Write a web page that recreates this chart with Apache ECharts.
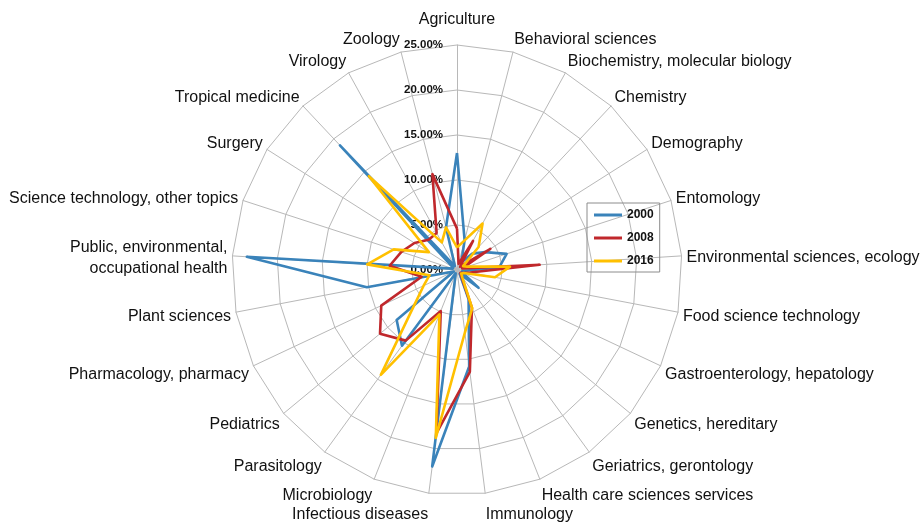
<!DOCTYPE html>
<html><head><meta charset="utf-8">
<script src="https://cdn.jsdelivr.net/npm/echarts@6/dist/echarts.min.js"></script>
<style>html,body{margin:0;padding:0;background:#fff}#c{width:921px;height:522px}</style>
</head><body><div id="c"></div>
<script>
// Categories listed clockwise starting from the top axis
const categories = [
  'Agriculture', 'Behavioral sciences', 'Biochemistry, molecular biology', 'Chemistry',
  'Demography', 'Entomology', 'Environmental sciences, ecology', 'Food science technology',
  'Gastroenterology, hepatology', 'Genetics, hereditary', 'Geriatrics, gerontology',
  'Health care sciences services', 'Immunology', 'Infectious diseases', 'Microbiology',
  'Parasitology', 'Pediatrics', 'Pharmacology, pharmacy', 'Plant sciences',
  'Public, environmental,\noccupational health', 'Science technology, other topics',
  'Surgery', 'Tropical medicine', 'Virology', 'Zoology'
];
const seriesNames = ['2000', '2008', '2016'];
const values2000 = [13.0, 3.4, 1.0, 2.5, 3.7, 5.8, 4.7, 0.6, 0.6, 3.1, 0.5, 3.5, 10.8, 22.0, 0.4, 10.4, 8.7, 0.4, 10.2, 23.4, 0.5, 0.5, 19.0, 0.5, 4.9];
const values2008 = [4.6, 0.7, 3.7, 0.5, 4.4, 0.6, 9.2, 1.5, 0.8, 0.5, 0.8, 4.5, 11.4, 18.3, 4.9, 9.7, 11.1, 9.3, 4.0, 7.5, 6.5, 5.6, 4.6, 4.7, 11.0];
const values2016 = [2.5, 3.4, 5.9, 3.5, 0.8, 1.2, 5.9, 4.3, 0.8, 0.6, 1.0, 4.6, 7.0, 18.8, 5.3, 14.4, 6.2, 4.1, 3.1, 10.0, 7.4, 3.7, 14.3, 3.5, 4.9];
const axisMax = 25;
const axisSplits = 5;

const FONT = "'Liberation Sans', Arial, sans-serif";
const colors = ['#3a83ba', '#c0282c', '#ffc000'];
const n = categories.length;
// ECharts radar goes counter-clockwise; keep index 0 on top and reverse the rest
const order = [0].concat(categories.map((_, i) => i).slice(1).reverse());

const indicators = order.map(idx => ({
  name: categories[idx], min: 0, max: axisMax,
  nameGap: idx === 0 ? 15 : 5,
  axisLabel: { show: idx === 0 }
}));

// Vertical nudge of each name (positive = down), done with an invisible spacer line
const rich = { n: { color: '#111', fontFamily: FONT, fontSize: 16, lineHeight: 21 } };
const nudge = categories.map((_, idx) => {
  if (idx === 0) return 0;
  const c = Math.cos(idx * 2 * Math.PI / n);
  const a = Math.abs(c);
  return c > 0 ? -8 * a + 3 * (1 - a) : 10 * a + 2 + (a > 0.98 ? 4 : 0);
});
nudge.forEach((v, idx) => { rich['s' + idx] = { fontSize: 1, lineHeight: Math.max(1, 2 * Math.abs(v)) }; });

function formatName(name) {
  const idx = categories.indexOf(name);
  const lines = name.split('\n').map(l => '{n|' + l + '}').join('\n');
  const v = nudge[idx] || 0;
  if (Math.abs(v) < 0.5) return lines;
  const spacer = '{s' + idx + '| }';
  return v < 0 ? lines + '\n' + spacer : spacer + '\n' + lines;
}

const allValues = [values2000, values2008, values2016];
const chart = echarts.init(document.getElementById('c'), null, { renderer: 'canvas' });
chart.setOption({
  animation: false,
  backgroundColor: '#fff',
  legend: {
    orient: 'vertical', left: 587, top: 203,
    padding: [6, 6, 5, 7], itemGap: 11,
    borderColor: '#8c8c8c', borderWidth: 1,
    icon: 'rect', itemWidth: 28, itemHeight: 3,
    textStyle: { fontFamily: FONT, fontSize: 12, fontWeight: 'bold', color: '#111' },
    data: seriesNames
  },
  radar: {
    center: [457, 270], radius: 225, startAngle: 90,
    shape: 'polygon', splitNumber: axisSplits,
    indicator: indicators,
    axisName: { color: '#111', fontFamily: FONT, fontSize: 16, lineHeight: 21, formatter: formatName, rich: rich },
    axisLine: { lineStyle: { color: '#b8b8b8', width: 1 } },
    splitLine: { lineStyle: { color: '#b8b8b8', width: 1 } },
    splitArea: { show: false },
    axisTick: { show: false },
    axisLabel: {
      show: true, color: '#111', fontFamily: FONT, fontSize: 11.5, fontWeight: 'bold', margin: 14,
      formatter: v => Number(v).toFixed(2) + '%'
    }
  },
  series: [{
    type: 'radar', symbol: 'none',
    data: seriesNames.map((nm, s) => ({
      name: nm,
      value: order.map(i => allValues[s][i]),
      lineStyle: { color: colors[s], width: 2.6 },
      itemStyle: { color: colors[s] }
    }))
  }]
});
</script></body></html>
